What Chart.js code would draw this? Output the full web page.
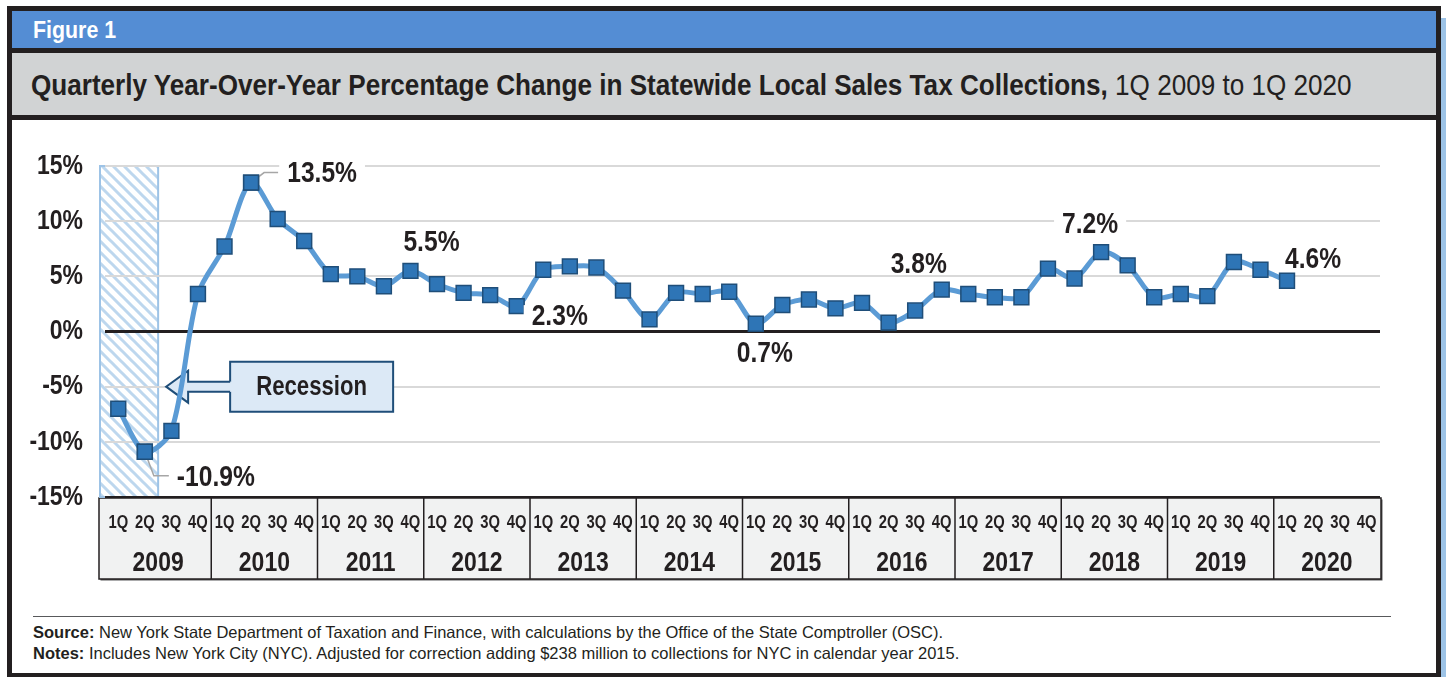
<!DOCTYPE html>
<html>
<head>
<meta charset="utf-8">
<script src="https://cdn.jsdelivr.net/npm/chart.js@4.4.1/dist/chart.umd.min.js"></script>
<style>
  html, body { margin: 0; padding: 0; background: #fff; }
  body { width: 1446px; height: 677px; position: relative; overflow: hidden;
         font-family: 'Liberation Sans', Arial, sans-serif; color: #231f20; }
  #frame { position: absolute; left: 7px; top: 6px; width: 1424px; height: 662px; border: 5px solid #231f20; background: #fff; }
  #strip { position: absolute; left: 1441px; top: 18px; width: 5px; height: 659px; background: #9dc3e6; }
  #fig { position: absolute; left: 12px; top: 11px; width: 1424px; height: 37px; background: #548dd4;
         color: #fff; font-weight: bold; font-size: 24px; line-height: 38px; padding-left: 21px; box-sizing: border-box; }
  #fig span, #title span { display: inline-block; transform-origin: 0 50%; white-space: nowrap; }
  #fig span { transform: scaleX(0.89); }
  #title span { transform: scaleX(0.9); }
  #sep1 { position: absolute; left: 12px; top: 48px; width: 1424px; height: 5px; background: #231f20; }
  #title { position: absolute; left: 12px; top: 53px; width: 1424px; height: 62px; background: #d1d3d4;
           font-size: 29px; line-height: 64px; padding-left: 19px; box-sizing: border-box; white-space: nowrap; overflow: hidden; }
  #title b { font-weight: bold; }
  #sep2 { position: absolute; left: 12px; top: 115px; width: 1424px; height: 5px; background: #231f20; }
  #chart { position: absolute; left: 12px; top: 120px; }
  #rule { position: absolute; left: 33px; top: 616px; width: 1358px; height: 1px; background: #58595b; }
  .note { position: absolute; left: 33px; font-size: 16.5px; white-space: nowrap; }
  #src { top: 623px; }
  #notes { top: 644px; }
</style>
</head>
<body>
<div id="frame"></div>
<div id="strip"></div>
<div id="fig"><span>Figure 1</span></div>
<div id="sep1"></div>
<div id="title"><span><b>Quarterly Year-Over-Year Percentage Change in Statewide Local Sales Tax Collections,</b> 1Q 2009 to 1Q 2020</span></div>
<div id="sep2"></div>
<canvas id="chart" width="1423" height="480"></canvas>
<div id="rule"></div>
<div class="note" id="src"><b>Source:</b> New York State Department of Taxation and Finance, with calculations by the Office of the State Comptroller (OSC).</div>
<div class="note" id="notes"><b>Notes:</b> Includes New York City (NYC). Adjusted for correction adding $238 million to collections for NYC in calendar year 2015.</div>
<script>
// ---------------- DATA ----------------
const years = ['2009','2010','2011','2012','2013','2014','2015','2016','2017','2018','2019','2020'];
const quarterNames = ['1Q','2Q','3Q','4Q'];
const quarters = years.flatMap(() => quarterNames);           // 48 category labels
const values = [
  -7.0, -10.9, -9.0, 3.4,     // 2009
   7.7, 13.5, 10.2, 8.2,      // 2010
   5.2, 5.0, 4.1, 5.5,        // 2011
   4.3, 3.5, 3.3, 2.3,        // 2012
   5.6, 5.9, 5.8, 3.7,        // 2013
   1.1, 3.5, 3.4, 3.6,        // 2014
   0.7, 2.4, 2.9, 2.1,        // 2015
   2.6, 0.8, 1.9, 3.8,        // 2016
   3.4, 3.1, 3.1, 5.7,        // 2017
   4.8, 7.2, 6.0, 3.1,        // 2018
   3.4, 3.2, 6.3, 5.6,        // 2019
   4.6, null, null, null      // 2020
];
const yTicks = [-15, -10, -5, 0, 5, 10, 15];
const labeledPoints = [1, 5, 11, 15, 24, 31, 37, 44];   // indices that carry a value label
const recessionQuarters = [0, 1];                        // 1Q 2009 - 2Q 2009
const recessionText = 'Recession';

// ---------------- STYLE / LAYOUT ----------------
const FONT = "'Liberation Sans', Arial, sans-serif";
const CONDENSE = 0.82;     // emulate a condensed typeface
const INK = '#231f20';
const labelLayout = {          // text centre offset from the point, optional leader line
  1:  { dx: 71, dy: 25, leader: [[9, 24], [24, 24]] },
  5:  { dx: 71, dy: -10, leader: [[13, -10], [27, -10]] },
  11: { dx: 21, dy: -29 },
  15: { dx: 43, dy: 10 },
  24: { dx: 9,  dy: 29 },
  31: { dx: -23, dy: -26 },
  37: { dx: -11, dy: -28 },
  44: { dx: 26, dy: -22 }
};

const canvas = document.getElementById('chart');
const c2d = canvas.getContext('2d');
const origFill = c2d.fillText;
c2d.fillText = function (text, x, y) {
  this.save();
  this.translate(x, y);
  this.scale(CONDENSE, 1);
  origFill.call(this, text, 0, 0);
  this.restore();
};

function hatchPattern(ctx) {
  const s = 11;
  const c = document.createElement('canvas');
  c.width = s; c.height = s;
  const g = c.getContext('2d');
  g.strokeStyle = '#bdd7ee';
  g.lineWidth = 3;
  g.beginPath();
  g.moveTo(-2, -2); g.lineTo(s + 2, s + 2);
  g.moveTo(-2, s - 2); g.lineTo(2, s + 2);
  g.moveTo(s - 2, -2); g.lineTo(s + 2, 2);
  g.stroke();
  return ctx.createPattern(c, 'repeat');
}

const decorPlugin = {
  id: 'decor',
  beforeDraw(chart) {
    const ctx = chart.ctx;
    const x = chart.scales.x, x2 = chart.scales.x2, y = chart.scales.y;
    const step = x.getPixelForValue(1) - x.getPixelForValue(0);
    // axis table
    const left = x.getPixelForValue(0) - step / 2 - 6;
    const right = x.getPixelForValue(quarters.length - 1) + step / 2 + 1;
    const top = x.top + 1, bottom = x2.bottom;
    ctx.save();
    ctx.fillStyle = '#58595b';
    ctx.fillRect(left + 1.5, top + 1.5, right - left, bottom - top);
    ctx.fillStyle = '#f1f2f2';
    ctx.fillRect(left, top, right - left, bottom - top);
    ctx.strokeStyle = INK;
    ctx.lineWidth = 1.5;
    ctx.strokeRect(left, top, right - left, bottom - top);
    for (let k = 1; k < years.length; k++) {
      const bx = (x.getPixelForValue(4 * k - 1) + x.getPixelForValue(4 * k)) / 2;
      ctx.beginPath();
      ctx.moveTo(bx, top); ctx.lineTo(bx, bottom);
      ctx.stroke();
    }
    // recession shading
    const l = x.getPixelForValue(recessionQuarters[0]) - step / 2 - 5;
    const r = x.getPixelForValue(recessionQuarters[recessionQuarters.length - 1]) + step / 2;
    const t = y.getPixelForValue(yTicks[yTicks.length - 1]);
    const b = y.getPixelForValue(yTicks[0]);
    ctx.fillStyle = hatchPattern(ctx);
    ctx.fillRect(l, t, r - l, b - t);
    ctx.strokeStyle = '#9dc3e6';
    ctx.lineWidth = 2;
    ctx.strokeRect(l, t, r - l, b - t);
    ctx.restore();
  },
  beforeDatasetsDraw(chart) {
    const ctx = chart.ctx;
    const x = chart.scales.x, y = chart.scales.y;
    const step = x.getPixelForValue(1) - x.getPixelForValue(0);
    const r = x.getPixelForValue(recessionQuarters[recessionQuarters.length - 1]) + step / 2;
    ctx.save();
    // Recession callout with arrow pointing to the shaded box
    const cy = y.getPixelForValue(-5);
    const tip = r + 8, headBack = tip + 22, boxL = headBack + 42, boxR = boxL + 163;
    const boxT = cy - 25, boxB = cy + 25;
    ctx.fillStyle = '#dce9f6';
    ctx.strokeStyle = '#1f4e79';
    ctx.lineWidth = 2;
    ctx.fillRect(boxL, boxT, boxR - boxL, boxB - boxT);
    ctx.beginPath();
    ctx.moveTo(boxL, cy - 5);
    ctx.lineTo(boxL, boxT); ctx.lineTo(boxR, boxT); ctx.lineTo(boxR, boxB); ctx.lineTo(boxL, boxB);
    ctx.lineTo(boxL, cy + 5);
    ctx.stroke();
    ctx.beginPath();
    ctx.moveTo(boxL + 1, cy - 5);
    ctx.lineTo(headBack, cy - 5);
    ctx.lineTo(headBack, cy - 16);
    ctx.lineTo(tip, cy);
    ctx.lineTo(headBack, cy + 16);
    ctx.lineTo(headBack, cy + 5);
    ctx.lineTo(boxL + 1, cy + 5);
    ctx.closePath();
    ctx.fill();
    ctx.beginPath();
    ctx.moveTo(boxL, cy - 5);
    ctx.lineTo(headBack, cy - 5);
    ctx.lineTo(headBack, cy - 16);
    ctx.lineTo(tip, cy);
    ctx.lineTo(headBack, cy + 16);
    ctx.lineTo(headBack, cy + 5);
    ctx.lineTo(boxL, cy + 5);
    ctx.stroke();
    ctx.fillStyle = INK;
    ctx.font = 'bold 27px ' + FONT;
    ctx.textAlign = 'center';
    ctx.textBaseline = 'middle';
    ctx.fillText(recessionText, (boxL + boxR) / 2, cy + 1);
    ctx.restore();
  },
  afterDatasetsDraw(chart) {
    const ctx = chart.ctx;
    const meta = chart.getDatasetMeta(0);
    ctx.save();
    ctx.font = 'bold 30px ' + FONT;
    ctx.textAlign = 'center';
    ctx.textBaseline = 'middle';
    labeledPoints.forEach(i => {
      const pt = meta.data[i];
      const lay = labelLayout[i];
      const txt = values[i].toFixed(1) + '%';
      const cx = pt.x + lay.dx, cy = pt.y + lay.dy;
      const w = ctx.measureText(txt).width * CONDENSE;
      ctx.fillStyle = '#fff';
      ctx.fillRect(cx - w / 2 - 8, cy - 11, w + 16, 22);
      if (lay.leader) {
        ctx.strokeStyle = '#a6a6a6';
        ctx.lineWidth = 1.5;
        ctx.beginPath();
        ctx.moveTo(pt.x, pt.y);
        lay.leader.forEach(p => ctx.lineTo(pt.x + p[0], pt.y + p[1]));
        ctx.stroke();
      }
      ctx.fillStyle = INK;
      ctx.fillText(txt, cx, cy + 1);
    });
    ctx.restore();
    // redraw the labelled points on top of their leader lines
    meta.data.forEach((p, i) => { if (values[i] !== null && labelLayout[i] && labelLayout[i].leader) p.draw(ctx, chart.chartArea); });
  }
};

new Chart(canvas, {
  type: 'line',
  data: {
    labels: quarters,
    datasets: [{
      data: values,
      xAxisID: 'x',
      yAxisID: 'y',
      borderColor: '#5b9bd5',
      borderWidth: 5,
      tension: 0.3,
      pointStyle: 'rect',
      pointRadius: 10.5,
      pointBackgroundColor: '#2e75b6',
      pointBorderColor: '#1f4e79',
      pointBorderWidth: 1.5,
      clip: false
    }]
  },
  options: {
    responsive: false,
    animation: false,
    devicePixelRatio: 1,
    layout: { padding: { left: 0, top: 46, right: 55, bottom: 21 } },
    plugins: { legend: { display: false }, tooltip: { enabled: false } },
    scales: {
      y: {
        min: -15, max: 15,
        afterBuildTicks: s => { s.ticks = yTicks.map(v => ({ value: v })); },
        afterFit: s => { s.width = 93; },
        border: { display: false },
        grid: {
          drawTicks: false,
          color: c => (c.tick.value === 0 || c.tick.value === -15) ? INK : '#d9d9d9',
          lineWidth: c => c.tick.value === 0 ? 3 : 2
        },
        ticks: {
          padding: 22,
          color: INK,
          font: { family: FONT, size: 28, weight: 'bold' },
          callback: v => v + '%'
        }
      },
      x: {
        type: 'category',
        position: 'bottom',
        weight: 0,
        offset: true,
        afterFit: s => { s.height = 46; },
        border: { display: false },
        grid: { display: false, drawTicks: false },
        ticks: {
          autoSkip: false, maxRotation: 0, padding: 15,
          color: INK,
          font: { family: FONT, size: 18, weight: 'bold' }
        }
      },
      x2: {
        type: 'category',
        labels: years,
        position: 'bottom',
        weight: 1,
        offset: true,
        afterFit: s => { s.height = 36; },
        border: { display: false },
        grid: { display: false, drawTicks: false },
        ticks: {
          autoSkip: false, maxRotation: 0, padding: 3,
          color: INK,
          font: { family: FONT, size: 28, weight: 'bold' }
        }
      }
    }
  },
  plugins: [decorPlugin]
});
</script>
</body>
</html>
